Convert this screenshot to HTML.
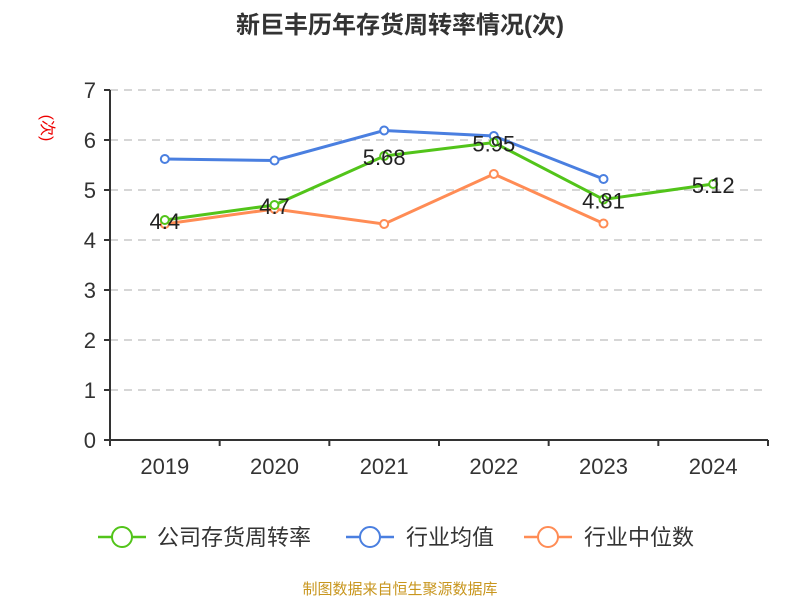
<!DOCTYPE html>
<html><head><meta charset="utf-8"><style>
body{margin:0;background:#fff;}
svg{display:block;font-family:"Liberation Sans","Noto Sans CJK SC",sans-serif;}
</style></head><body>
<svg id="chart" width="800" height="600">
<text x="400" y="33" text-anchor="middle" font-size="24" font-weight="bold" fill="#333">新巨丰历年存货周转率情况(次)</text>
<text x="0" y="0" transform="translate(42,128) rotate(90)" text-anchor="middle" font-size="16" fill="#e00">(次)</text>
<g id="grid"></g><g id="axes"></g><g id="series"></g>
<g>
<g><line x1="98" y1="537" x2="146" y2="537" stroke="#52c41a" stroke-width="2.5"/><circle cx="122" cy="537" r="10" fill="#fff" stroke="#52c41a" stroke-width="2"/><text x="157" y="545" font-size="22" fill="#333">公司存货周转率</text></g>
<g><line x1="346" y1="537" x2="394" y2="537" stroke="#4a7fe0" stroke-width="2.5"/><circle cx="370" cy="537" r="10" fill="#fff" stroke="#4a7fe0" stroke-width="2"/><text x="406" y="545" font-size="22" fill="#333">行业均值</text></g>
<g><line x1="524" y1="537" x2="572" y2="537" stroke="#ff8c55" stroke-width="2.5"/><circle cx="548" cy="537" r="10" fill="#fff" stroke="#ff8c55" stroke-width="2"/><text x="584" y="545" font-size="22" fill="#333">行业中位数</text></g>
</g>
<text x="400" y="594" text-anchor="middle" font-size="15" fill="#c8961e">制图数据来自恒生聚源数据库</text>
</svg>
<script>
const categories=["2019","2020","2021","2022","2023","2024"];
const companyValues=[4.4,4.7,5.68,5.95,4.81,5.12];
const meanValues=[5.62,5.59,6.19,6.08,5.22,null];
const medianValues=[4.32,4.62,4.32,5.32,4.33,null];
const yTicks=[0,1,2,3,4,5,6,7];
const NS="http://www.w3.org/2000/svg";
const x0=110,x1=768,yb=440,yt=90,ymax=7;
const bw=(x1-x0)/categories.length;
const xs=i=>x0+bw*(i+0.5);
const ys=v=>yb-(v/ymax)*(yb-yt);
function mk(tag,attrs,parent){const e=document.createElementNS(NS,tag);for(const k in attrs)e.setAttribute(k,attrs[k]);parent.appendChild(e);return e;}
const grid=document.getElementById('grid'),axes=document.getElementById('axes'),ser=document.getElementById('series');
yTicks.forEach(t=>{
 if(t>0){const g=mk('line',{x1:x0,x2:x1,y1:ys(t),y2:ys(t),stroke:'#c8c8c8','stroke-dasharray':'8,6','stroke-width':1.5},grid);
 
 }
 const tk=mk('line',{x1:x0-6,x2:x0,y1:ys(t),y2:ys(t),stroke:'#333','stroke-width':2},axes);
 
 
 const lb=mk('text',{x:x0-14,y:ys(t)+8,'text-anchor':'end','font-size':22,fill:'#333'},axes);lb.textContent=t;
 
 
});
const ya=mk('line',{x1:x0,x2:x0,y1:yt,y2:yb,stroke:'#333','stroke-width':2},axes);


const xa=mk('line',{x1:x0,x2:x1,y1:yb,y2:yb,stroke:'#333','stroke-width':2},axes);


for(let i=0;i<=categories.length;i++){const t=mk('line',{x1:x0+bw*i,x2:x0+bw*i,y1:yb,y2:yb+6,stroke:'#333','stroke-width':2},axes);
 
 }
categories.forEach((c,i)=>{const l=mk('text',{x:xs(i),y:yb+34,'text-anchor':'middle','font-size':22,fill:'#333'},axes);l.textContent=c;
 
 });
function drawSeries(vals,color,name,labels){
 const g=mk('g',{},ser);
 
 
 let d='';vals.forEach((v,i)=>{if(v==null)return;d+=(d?'L':'M')+xs(i)+','+ys(v);});
 mk('path',{d:d,fill:'none',stroke:color,'stroke-width':3},g);
 vals.forEach((v,i)=>{if(v==null)return;const c=mk('circle',{cx:xs(i),cy:ys(v),r:4,fill:'#fff',stroke:color,'stroke-width':2},g);
  
  
  if(labels){const t=mk('text',{x:xs(i),y:ys(v)+9,'text-anchor':'middle','font-size':22,fill:'#222'},g);t.textContent=v;
  
  }});
}
drawSeries(meanValues,'#4a7fe0','industry-mean-line',false);
drawSeries(medianValues,'#ff8c55','industry-median-line',false);
drawSeries(companyValues,'#52c41a','company-turnover-line',true);
</script>
</body></html>
